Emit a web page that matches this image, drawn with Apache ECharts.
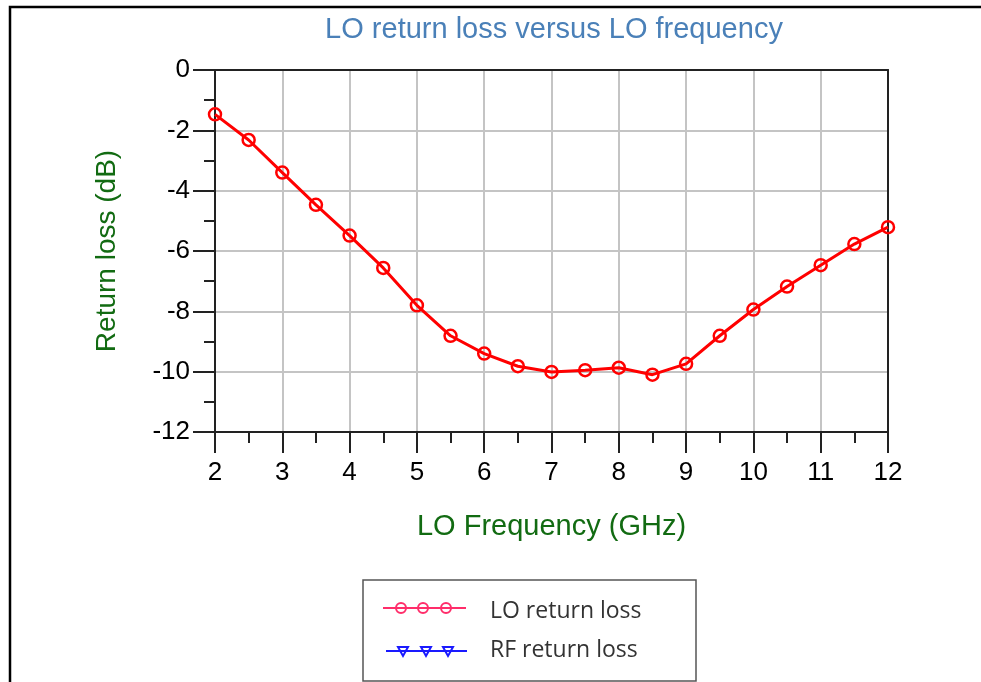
<!DOCTYPE html>
<html>
<head>
<meta charset="utf-8">
<script src="https://cdn.jsdelivr.net/npm/echarts@6/dist/echarts.min.js"></script>
<style>
html,body{margin:0;padding:0;background:#fff;}
#chart{width:981px;height:682px;}
</style>
</head>
<body>
<div id="chart"></div>
<script>
const titleText = 'LO return loss versus LO frequency';
const xName = 'LO Frequency (GHz)';
const yName = 'Return loss (dB)';
const freqGHz = [2, 2.5, 3, 3.5, 4, 4.5, 5, 5.5, 6, 6.5, 7, 7.5, 8, 8.5, 9, 9.5, 10, 10.5, 11, 11.5, 12];
const loReturnLoss = [-1.47, -2.32, -3.40, -4.47, -5.49, -6.56, -7.80, -8.81, -9.40, -9.82, -10.01, -9.95, -9.87, -10.10, -9.74, -8.81, -7.94, -7.18, -6.47, -5.77, -5.21];
const legendNames = ['LO return loss', 'RF return loss'];

const chart = echarts.init(document.getElementById('chart'));
const font = '"Liberation Sans", Arial, sans-serif';

const legendX = 363, legendY = 580;
const legendGraphics = [
  {type:'rect', shape:{x:legendX, y:legendY, width:333, height:101}, style:{fill:'#fff', stroke:'#555', lineWidth:1.5}},
  {type:'line', shape:{x1:383, y1:608, x2:466, y2:608}, style:{stroke:'#ff2d6a', lineWidth:2}},
  {type:'circle', shape:{cx:401, cy:608, r:5}, style:{fill:'none', stroke:'#ff2d6a', lineWidth:2}},
  {type:'circle', shape:{cx:423, cy:608, r:5}, style:{fill:'none', stroke:'#ff2d6a', lineWidth:2}},
  {type:'circle', shape:{cx:446, cy:608, r:5}, style:{fill:'none', stroke:'#ff2d6a', lineWidth:2}},
  {type:'line', shape:{x1:386, y1:651, x2:467, y2:651}, style:{stroke:'#1a1aff', lineWidth:2}},
  {type:'polygon', shape:{points:[[398,647],[408,647],[403,656]]}, style:{fill:'none', stroke:'#1a1aff', lineWidth:2}},
  {type:'polygon', shape:{points:[[421,647],[431,647],[426,656]]}, style:{fill:'none', stroke:'#1a1aff', lineWidth:2}},
  {type:'polygon', shape:{points:[[443,647],[453,647],[448,656]]}, style:{fill:'none', stroke:'#1a1aff', lineWidth:2}},
  {type:'text', x:490, y:611, style:{text:legendNames[0], font:'23px "Open Sans", sans-serif', fill:'#333', verticalAlign:'middle'}},
  {type:'text', x:490, y:650, style:{text:legendNames[1], font:'23px "Open Sans", sans-serif', fill:'#333', verticalAlign:'middle'}}
];

const frameAxisBase = {
  axisLine:{show:true, onZero:false, lineStyle:{color:'#222', width:2}},
  axisTick:{show:false}, axisLabel:{show:false}, splitLine:{show:false}, minorTick:{show:false}
};

chart.setOption({
  backgroundColor:'#fff',
  animation:false,
  title:{
    text:titleText, left:549, top:10, textAlign:'center',
    textStyle:{color:'#4a80b8', fontSize:29, fontWeight:'normal', fontFamily:font}
  },
  grid:{left:215, right:93, top:70, bottom:250, show:false},
  xAxis:[{
    type:'value', min:2, max:12, interval:1, position:'bottom',
    name:xName, nameLocation:'middle', nameGap:80,
    nameTextStyle:{color:'#126b12', fontSize:29, fontFamily:font},
    axisLine:{onZero:false, lineStyle:{color:'#222', width:2}},
    axisTick:{show:true, inside:false, length:21, lineStyle:{color:'#222', width:2}},
    minorTick:{show:true, splitNumber:2, length:11, lineStyle:{color:'#222', width:2}},
    axisLabel:{color:'#000', fontSize:26, fontFamily:font, margin:28},
    splitLine:{show:true, lineStyle:{color:'#c4c4c4', width:2}}
  }, Object.assign({type:'value', min:2, max:12, position:'top'}, frameAxisBase)],
  yAxis:[{
    type:'value', min:-12, max:0, interval:2, position:'left',
    name:yName, nameLocation:'middle', nameGap:94, nameRotate:90,
    nameTextStyle:{color:'#126b12', fontSize:28, fontFamily:font},
    axisLine:{onZero:false, lineStyle:{color:'#222', width:2}},
    axisTick:{show:true, inside:false, length:22, lineStyle:{color:'#222', width:2}},
    minorTick:{show:true, splitNumber:2, length:11, lineStyle:{color:'#222', width:2}},
    axisLabel:{color:'#000', fontSize:26, fontFamily:font, margin:25},
    splitLine:{show:true, lineStyle:{color:'#c4c4c4', width:2}}
  }, Object.assign({type:'value', min:-12, max:0, position:'right'}, frameAxisBase)],
  series:[{
    name:legendNames[0], type:'line', xAxisIndex:0, yAxisIndex:0,
    data:freqGHz.map((f,i)=>[f, loReturnLoss[i]]),
    symbol:'circle', symbolSize:12,
    lineStyle:{color:'#ff0000', width:3},
    itemStyle:{color:'rgba(255,255,255,0)', borderColor:'#ff0000', borderWidth:2.5},
    z:5
  }],
  graphic:[
    {type:'rect', shape:{x:10, y:7, width:1000, height:700}, style:{fill:'none', stroke:'#000', lineWidth:2.5}, z:-10}
  ].concat(legendGraphics)
});
</script>
</body>
</html>
